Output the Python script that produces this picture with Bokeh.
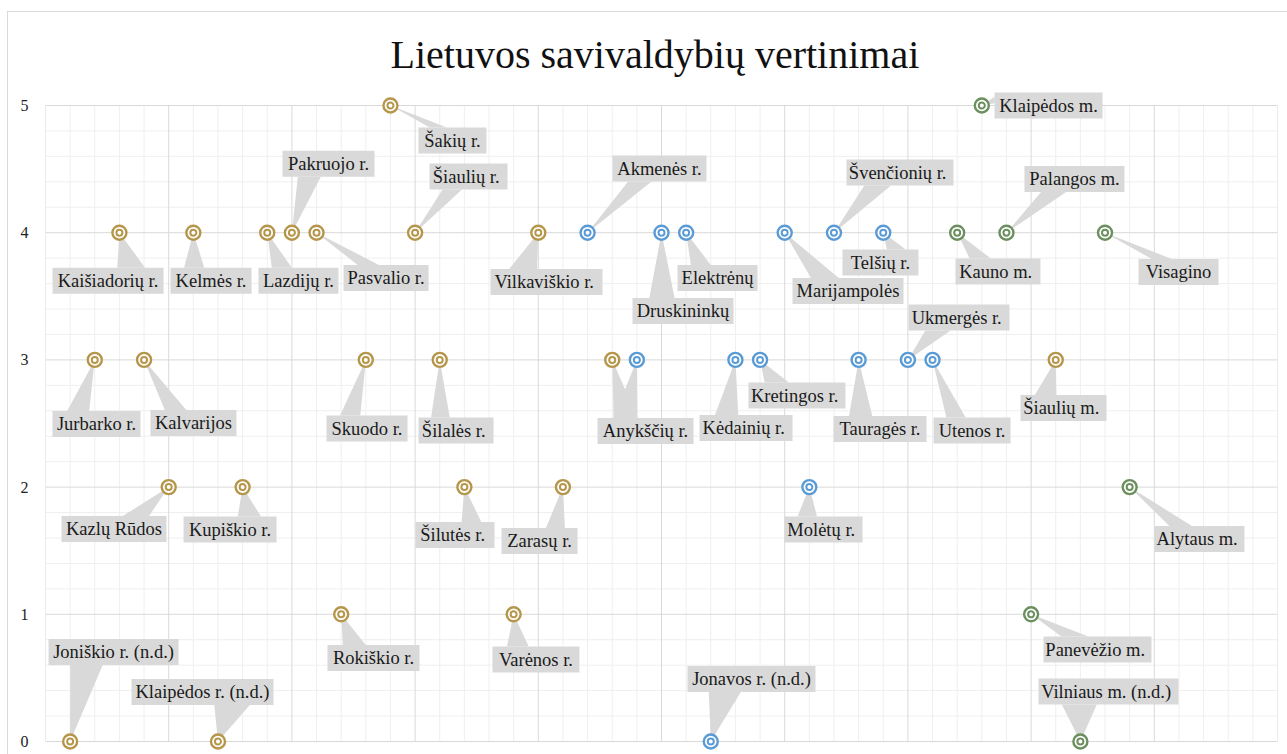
import numpy as np
from bokeh.plotting import figure
from bokeh.models import Range1d, FixedTicker, ColumnDataSource
from bokeh.embed import file_html
from bokeh.resources import INLINE
from bokeh.core.properties import value

# ---------------- data ----------------
names = [
    "Joniškio r. (n.d.)", "Jurbarko r.", "Kaišiadorių r.", "Kalvarijos", "Kazlų Rūdos",
    "Kelmės r.", "Klaipėdos r. (n.d.)", "Kupiškio r.", "Lazdijų r.", "Pakruojo r.",
    "Pasvalio r.", "Rokiškio r.", "Skuodo r.", "Šakių r.", "Šiaulių  r.",
    "Šilalės  r.", "Šilutės  r.", "Varėnos r.", "Vilkaviškio  r.", "Zarasų r.",
    "Akmenės r.", "Anykščių r.", "Anykščių r.", "Druskininkų", "Elektrėnų",
    "Jonavos r. (n.d.)", "Kėdainių  r.", "Kretingos  r.", "Marijampolės", "Molėtų  r.",
    "Švenčionių  r.", "Tauragės r.", "Telšių r.", "Ukmergės  r.", "Utenos r.",
    "Kauno  m.", "Klaipėdos m.", "Palangos m.", "Panevėžio  m.", "Šiaulių  m.",
    "Vilniaus  m. (n.d.)", "Visagino", "Alytaus  m.",
]
index = [1, 2, 3, 4, 5, 6, 7, 8, 9, 10, 11, 12, 13, 14, 15, 16, 17, 19, 20, 21,
         22, 23, 24, 25, 26, 27, 28, 29, 30, 31, 32, 33, 34, 35, 36,
         37, 38, 39, 40, 41, 42, 43, 44]
scores = [0, 3, 4, 3, 2, 4, 0, 2, 4, 4, 4, 1, 3, 5, 4, 3, 2, 1, 4, 2,
          4, 3, 3, 4, 4, 0, 3, 3, 4, 2, 4, 3, 4, 3, 3,
          4, 5, 4, 1, 3, 0, 4, 2]
groups = (["r"] * 20 + ["s", "r"] + ["s"] * 13
          + ["m", "m", "m", "m", "r", "m", "m", "m"])

# ---------------- label layout (pixel offsets of box centre from the point) ----------------
lab_dx = [43.4, 1.7, -11.4, 49.4, -54.7, 17.7, -15.5, -12.6, 31.2, 36.6,
          69.5, 32.3, 1.2, 62.0, 53.4, 16.3, -9.4, 22.3, 8.2, -23.4,
          71.9, 33.3, 8.6, 21.5, 31.4, 40.7, 10.6, 36.9, 63.3, 14.2,
          66.0, 21.4, -2.8, 51.1, 39.5,
          40.8, 66.7, 68.0, 66.4, 7.8, 28.1, 73.5, 69.8]
lab_dy = [-89.5, 64.0, 48.0, 63.0, 42.0, 48.0, -49.5, 42.4, 48.0, -69.0,
          45.3, 43.7, 68.6, 35.0, -56.2, 70.6, 47.9, 45.2, 49.3, 53.9,
          -64.2, 71.1, 71.1, 78.3, 45.3, -62.5, 68.1, 35.6, 58.3, 42.4,
          -60.2, 69.1, 29.8, -42.4, 70.6,
          38.8, 0.0, -53.7, 35.2, 48.1, -50.0, 39.3, 51.9]
lab_w = [130, 88, 111, 86, 105, 81, 142, 93, 80, 92,
         85, 92, 81, 68, 78, 75, 79, 87, 112, 76,
         94, 96, 96, 101, 80, 128, 93, 97, 111, 78,
         107, 93, 76, 101, 77,
         85, 108, 100, 108, 86, 140, 80, 90]

colors = {"r": "#B5964A", "s": "#5B9BD5", "m": "#6B8F5E"}

# ---------------- geometry ----------------
FW, FH = 1232, 664
X0, X1 = 0, 50
Y0, Y1 = -13 / 127.2, 5 + 15 / 127.2
SX = FW / (X1 - X0)
SY = FH / (Y1 - Y0)
BH = 26

p = figure(width=1287, height=754, frame_width=FW, frame_height=FH,
           x_range=Range1d(X0, X1), y_range=Range1d(Y0, Y1),
           x_axis_location=None, output_backend="svg", toolbar_location=None,
           min_border_left=45, min_border_right=10, min_border_top=90, min_border_bottom=0)
p.outline_line_color = None
p.xgrid.visible = False
p.ygrid.visible = False
p.background_fill_color = "white"
p.border_fill_color = None
p.styles = {
    "background-color": "white",
    "background-image": "linear-gradient(#D9D9D9, #D9D9D9), linear-gradient(#D9D9D9, #D9D9D9)",
    "background-size": "1px 100%, 100% 1px",
    "background-position": "7px 11px, 7px 11px",
    "background-repeat": "no-repeat",
}

p.title.text = "Lietuvos savivaldybių vertinimai"
p.title.align = "left"
p.title.offset = 345
p.title.text_font = "Liberation Serif"
p.title.text_font_size = "40px"
p.title.text_font_style = "normal"
p.title.text_color = "#111111"
p.title.standoff = 27

p.yaxis.ticker = FixedTicker(ticks=[0, 1, 2, 3, 4, 5])
p.yaxis.axis_line_color = None
p.yaxis.major_tick_line_color = None
p.yaxis.minor_tick_line_color = None
p.yaxis.major_label_text_font = "Liberation Serif"
p.yaxis.major_label_text_font_size = "16px"
p.yaxis.major_label_text_color = "#222222"
p.yaxis.major_label_standoff = 11

# grid
minor_x = [v for v in range(0, 51) if v % 5 != 0]
major_x = [v for v in range(0, 51, 5)]
minor_y = [round(v * 0.2, 1) for v in range(0, 26) if v % 5 != 0]
major_y = list(range(0, 6))
p.segment(x0=minor_x, x1=minor_x, y0=[0] * len(minor_x), y1=[5] * len(minor_x),
          line_color="#EFEFEF", line_width=1)
p.segment(x0=[0] * len(minor_y), x1=[50] * len(minor_y), y0=minor_y, y1=minor_y,
          line_color="#EFEFEF", line_width=1)
p.segment(x0=major_x, x1=major_x, y0=[0] * len(major_x), y1=[5] * len(major_x),
          line_color="#D9D9D9", line_width=1)
p.segment(x0=[0] * len(major_y), x1=[50] * len(major_y), y0=major_y, y1=major_y,
          line_color="#D9D9D9", line_width=1)

# callouts
bxs, bys, wxs, wys, tx, ty, tt = [], [], [], [], [], [], []
seen = set()
for i in range(len(names)):
    px = index[i] * SX
    py = -scores[i] * SY
    cx = px + lab_dx[i]
    cy = py + lab_dy[i]
    w, h = lab_w[i], BH
    l, r, t, b = cx - w / 2, cx + w / 2, cy - h / 2, cy + h / 2
    dxp, dyp = px - cx, py - cy
    dz = abs(dyp) - abs(dxp * h / w)
    if dz > 0:
        if dxp > 0:
            xa, xb = l + w * 7 / 12, l + w * 10 / 12
        else:
            xa, xb = l + w * 2 / 12, l + w * 5 / 12
        ye = t if dyp < 0 else b
        pts = [(xa, ye), (px, py), (xb, ye)]
    else:
        if dyp > 0:
            ya, yb = t + h * 7 / 12, t + h * 10 / 12
        else:
            ya, yb = t + h * 2 / 12, t + h * 5 / 12
        xe = l if dxp < 0 else r
        pts = [(xe, ya), (px, py), (xe, yb)]
    wxs.append([q[0] / SX for q in pts])
    wys.append([-q[1] / SY for q in pts])
    key = (names[i], round(cx), round(cy))
    if key in seen:
        continue
    seen.add(key)
    bxs.append([l / SX, r / SX, r / SX, l / SX])
    bys.append([-t / SY, -t / SY, -b / SY, -b / SY])
    tx.append(cx / SX)
    ty.append(-cy / SY)
    tt.append(names[i])

p.patches(xs=wxs, ys=wys, fill_color="#D9D9D9", line_color=None)
p.patches(xs=bxs, ys=bys, fill_color="#D9D9D9", line_color=None)
p.text(x=tx, y=ty, text=tt, text_align="center", text_baseline="middle",
       text_font=value("Liberation Serif"), text_font_size=value("18.5px"),
       text_color="#1A1A1A")

src = ColumnDataSource(dict(x=index, y=scores, c=[colors[g] for g in groups]))
p.scatter("x", "y", source=src, size=14, line_width=2.4, line_color="c",
          fill_color="white", marker="circle")
p.scatter("x", "y", source=src, size=6, line_width=2, line_color="c",
          fill_color=None, marker="circle")

open("out.html", "w").write(file_html(p, INLINE))
